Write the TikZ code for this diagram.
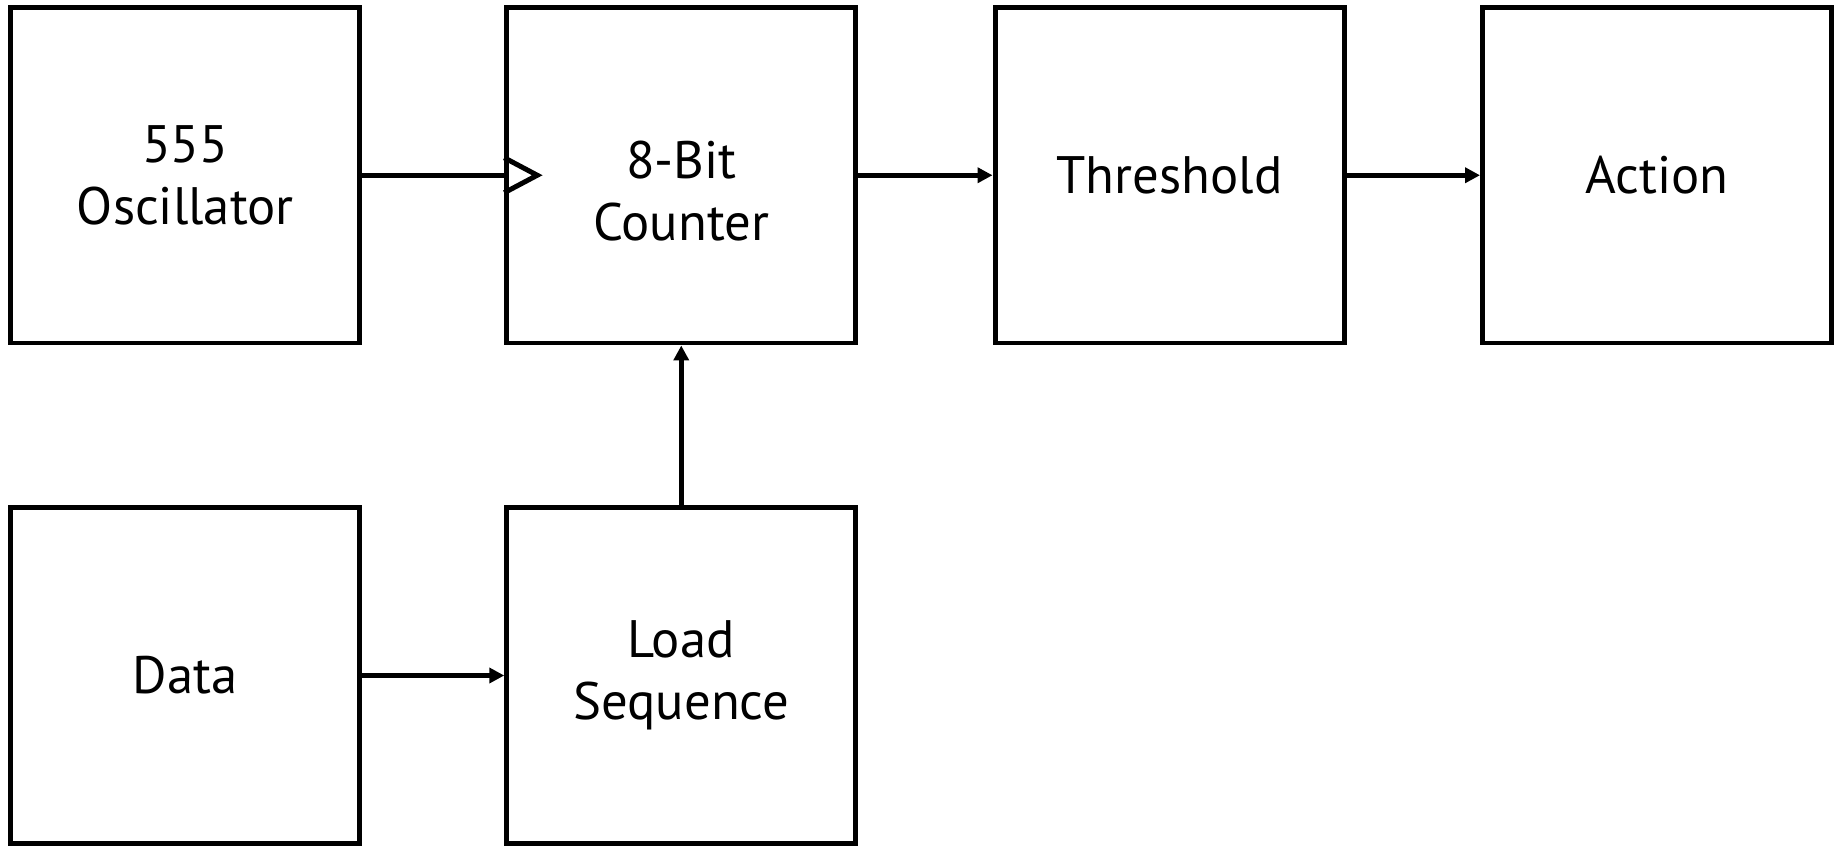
\documentclass[tikz,border=0pt]{standalone}
\usepackage{fontspec}
\setmainfont{PT Sans}
\usepackage{tikz}
\usetikzlibrary{arrows.meta,positioning}

\begin{document}
\begin{tikzpicture}[
    block/.style={rectangle, draw, line width=1.42pt, minimum width=3.49cm, minimum height=3.355cm, align=center, font=\fontsize{15}{17.8}\selectfont},
    link/.style={draw, line width=1.42pt, -{Triangle[length=0.15cm,width=0.15cm]}},
    wire/.style={draw, line width=1.42pt}
]
\useasboundingbox (0,0) rectangle (18.39,8.45);

% Top row
\node[block] (osc) at (1.8525, 6.6975) {555\\Oscillator};
\node[block, label={[font=\fontsize{15}{17.8}\selectfont, align=center, yshift=-0.16cm]center:8-Bit\\Counter}] (cnt) at (6.8125, 6.6975) {};
\node[block] (thr) at (11.695, 6.6975) {Threshold};
\node[block] (act) at (16.57, 6.6975) {Action};

% Bottom row
\node[block] (dat) at (1.8525, 1.695) {Data};
\node[block] (load) at (6.8125, 1.695) {Load\\Sequence};

% Clock input of the counter
\draw[line width=1.42pt, line join=miter] ([yshift=0.175cm]cnt.west) -- ([xshift=0.33cm]cnt.west) -- ([yshift=-0.175cm]cnt.west);

% Connections
\draw[wire] (osc.east) -- (cnt.west);
\draw[link] (cnt.east) -- (thr.west);
\draw[link] (thr.east) -- (act.west);
\draw[link] (dat.east) -- (load.west);
\draw[link] (load.north) -- (cnt.south);

\end{tikzpicture}
\end{document}
